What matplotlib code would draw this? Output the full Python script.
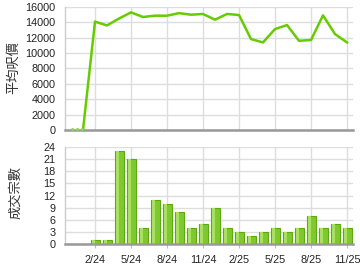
import matplotlib
matplotlib.use("Agg")
import matplotlib.pyplot as plt
import numpy as np

# months from 12/23 to 11/25 (index 0 = 2/24)
months = list(range(-2, 22))
price = [0, 0, 14100, 13600, 14500, 15300, 14700, 14870, 14870, 15200, 15000,
         15090, 14350, 15090, 14960, 11830, 11390, 13130, 13650, 11610, 11700,
         14910, 12480, 11390]
volume = [0, 0, 1, 1, 23, 21, 4, 11, 10, 8, 4, 5, 9, 4, 3, 2, 3, 4, 3, 4, 7, 4, 5, 4]
tick_pos = [0, 3, 6, 9, 12, 15, 18, 21]
tick_labels = ["2/24", "5/24", "8/24", "11/24", "2/25", "5/25", "8/25", "11/25"]
price_ticks = list(range(0, 16001, 2000))
vol_ticks = list(range(0, 25, 3))

plt.rcParams['font.family'] = ['Liberation Sans', 'DejaVu Sans']
cjk = ['Noto Sans CJK TC', 'DejaVu Sans']

fig = plt.figure(figsize=(3.6, 2.7), dpi=100)
ax1 = fig.add_axes([65/360, 1-130/270, (353-65)/360, (130-7)/270])
ax2 = fig.add_axes([65/360, 1-244/270, (353-65)/360, (244-147)/270])

grid_c = '#dddddd'
for ax in (ax1, ax2):
    ax.set_xlim(-2.5, 21.5)
    ax.set_xticks(tick_pos)
    ax.grid(True, color=grid_c, linewidth=1.0)
    ax.set_axisbelow(True)
    for s in ('top', 'right'):
        ax.spines[s].set_visible(False)
    ax.spines['left'].set_color('#cccccc')
    ax.spines['left'].set_linewidth(1.0)
    ax.spines['bottom'].set_color('#999999')
    ax.spines['bottom'].set_linewidth(1.8)
    ax.tick_params(axis='y', length=0, labelsize=7.8, pad=7, colors='#222222')
    ax.tick_params(axis='x', length=3, color='#bbbbbb', labelsize=7.8, colors='#222222', pad=5)

# top line chart
x = np.array(months)
p = np.array(price)
ax1.plot(x[:2], p[:2] + 140, color='#88dd44', linestyle=(0, (0.7, 0.9)), linewidth=2.2,
         clip_on=False, zorder=6)
ax1.plot(x[1:], p[1:], color='#66cc00', linewidth=1.8, clip_on=False, zorder=5)
ax1.set_ylim(0, 16000)
ax1.set_yticks(price_ticks)
ax1.set_xticklabels([])
ax1.tick_params(axis='x', length=0)
ax1.set_ylabel('平均呎價', family=cjk, fontsize=9.5, color='#333333')
ax1.yaxis.set_label_coords(-0.157, 0.51)

# bottom bar chart
v = np.array(volume)
ax2.bar(x, v, width=0.75, color='#80c830', edgecolor='#5aaa10', linewidth=0.8)
ax2.bar(x - 0.12, v, width=0.3, color='#a8e060', linewidth=0, bottom=0)
ax2.set_ylim(0, 24)
ax2.set_yticks(vol_ticks)
ax2.set_xticklabels(tick_labels)
ax2.set_ylabel('成交宗數', family=cjk, fontsize=9.5, color='#333333')
ax2.yaxis.set_label_coords(-0.15, 0.53)

fig.savefig('out.png', dpi=100)
